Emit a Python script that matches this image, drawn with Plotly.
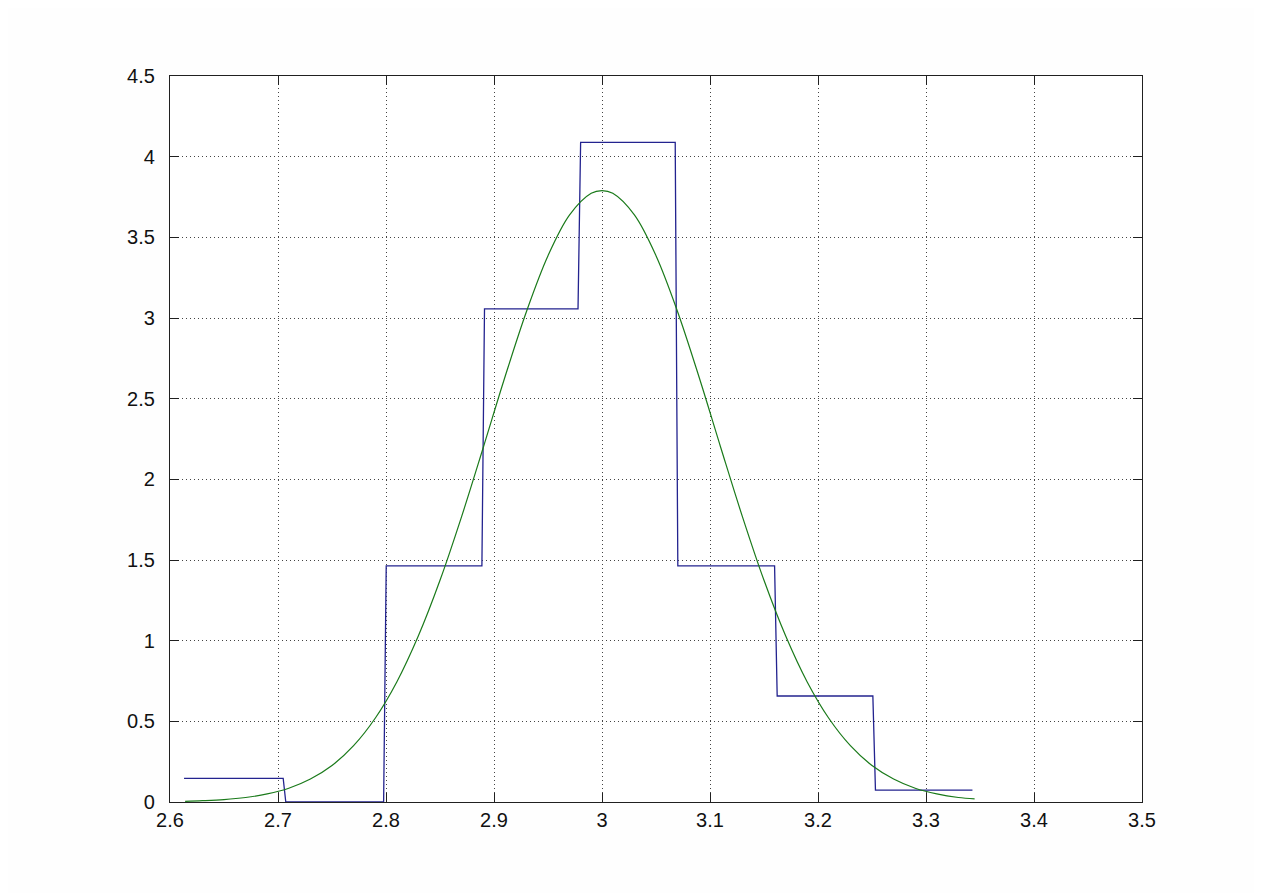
import plotly.graph_objects as go

# Histogram (density)
bin_edges = [2.613, 2.706, 2.799, 2.890, 2.979, 3.069, 3.161, 3.252, 3.343]
bin_heights = [0.147, 0.0, 1.463, 3.056, 4.088, 1.463, 0.657, 0.074]

# Fitted curve, values read at sample x positions
curve_x = [2.614, 2.63, 2.65, 2.67, 2.69, 2.71, 2.73, 2.75, 2.77, 2.79, 2.81, 2.83,
           2.85, 2.87, 2.89, 2.91, 2.93, 2.95, 2.97, 2.99, 3.00, 3.01, 3.03, 3.05,
           3.07, 3.09, 3.11, 3.13, 3.15, 3.17, 3.19, 3.21, 3.23, 3.25, 3.27, 3.29,
           3.31, 3.33, 3.345]
curve_y = [0.004, 0.008, 0.015, 0.028, 0.050, 0.085, 0.142, 0.226, 0.349, 0.519, 0.744, 1.030,
           1.374, 1.769, 2.196, 2.631, 3.039, 3.386, 3.639, 3.773, 3.790, 3.773, 3.639, 3.386,
           3.039, 2.631, 2.196, 1.769, 1.374, 1.030, 0.744, 0.519, 0.349, 0.226, 0.142, 0.085,
           0.050, 0.028, 0.019]

x_ticks = [2.6, 2.7, 2.8, 2.9, 3.0, 3.1, 3.2, 3.3, 3.4, 3.5]
x_labels = ["2.6", "2.7", "2.8", "2.9", "3", "3.1", "3.2", "3.3", "3.4", "3.5"]
y_ticks = [0, 0.5, 1, 1.5, 2, 2.5, 3, 3.5, 4, 4.5]
y_labels = ["0", "0.5", "1", "1.5", "2", "2.5", "3", "3.5", "4", "4.5"]

# Build stair outline from edges and heights
d = 0.0012
sx, sy = [], []
for i, h in enumerate(bin_heights):
    left = bin_edges[i] + (d if i > 0 else 0)
    right = bin_edges[i + 1] - (d if i < len(bin_heights) - 1 else 0)
    sx += [left, right]
    sy += [h, h]

fig = go.Figure()
fig.add_trace(go.Scatter(x=sx, y=sy, mode="lines",
                         line=dict(color="#23238f", width=1.3), showlegend=False))
fig.add_trace(go.Scatter(x=curve_x, y=curve_y, mode="lines", line_shape="spline",
                         line=dict(color="#1a7a1a", width=1.2), showlegend=False))

axis_common = dict(showline=True, mirror="allticks", linecolor="#202020", linewidth=1.2,
                   ticks="inside", ticklen=9, tickcolor="#202020", tickwidth=1.2,
                   showgrid=True, gridcolor="#444444", griddash="1px,3px", gridwidth=1,
                   zeroline=False,
                   tickfont=dict(family="Liberation Sans, Arial, sans-serif", size=20, color="#111111"))

fig.update_xaxes(range=[2.6, 3.5], tickvals=x_ticks, ticktext=x_labels,
                 ticklabelstandoff=0, **axis_common)
fig.update_yaxes(range=[0, 4.5], tickvals=y_ticks, ticktext=y_labels,
                 ticklabelstandoff=10, **axis_common)

fig.update_layout(width=1262, height=893,
                  margin=dict(l=162, r=128, t=68, b=99),
                  paper_bgcolor="#fefefe", plot_bgcolor="#ffffff",
                  showlegend=False)

fig.write_html("out.html")
